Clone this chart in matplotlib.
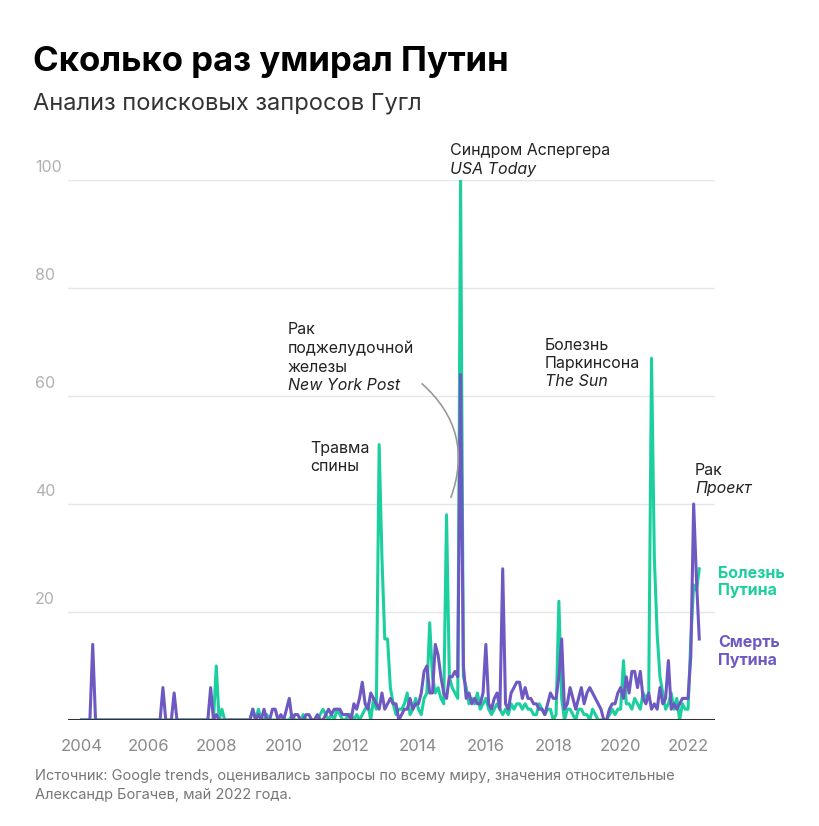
import matplotlib
matplotlib.use("Agg")
import matplotlib.pyplot as plt
import numpy as np
from matplotlib.patches import FancyArrowPatch

plt.rcParams['font.family'] = ['Inter', 'DejaVu Sans']

# monthly values, Jan 2004 .. May 2022
death = {
    2004: [0, 0, 0, 0, 14, 0, 0, 0, 0, 0, 0, 0],
    2005: [0] * 12,
    2006: [0, 0, 0, 0, 0, 6, 0, 0, 0, 5, 0, 0],
    2007: [0, 0, 0, 0, 0, 0, 0, 0, 0, 0, 6, 0],
    2008: [1, 0, 0, 0, 0, 0, 0, 0, 0, 0, 0, 0],
    2009: [0, 2, 0, 1, 0, 2, 0, 0, 2, 2, 0, 1],
    2010: [0, 2, 4, 0, 1, 1, 0, 0, 1, 1, 0, 0],
    2011: [1, 0, 0, 1, 2, 1, 2, 2, 2, 1, 1, 1],
    2012: [0, 3, 2, 4, 7, 3, 2, 5, 4, 3, 2, 5],
    2013: [2, 3, 4, 3, 3, 0, 1, 2, 2, 4, 2, 3],
    2014: [3, 5, 9, 10, 5, 5, 14, 12, 8, 5, 4, 8],
    2015: [8, 9, 8, 64, 10, 4, 5, 3, 4, 3, 3, 5],
    2016: [14, 3, 2, 4, 5, 2, 28, 3, 2, 5, 6, 7],
    2017: [7, 4, 6, 4, 4, 3, 3, 2, 2, 1, 3, 5],
    2018: [4, 4, 8, 15, 2, 3, 6, 4, 2, 4, 6, 3],
    2019: [5, 6, 5, 4, 3, 2, 0, 0, 2, 3, 3, 5],
    2020: [6, 4, 8, 5, 9, 9, 6, 9, 4, 3, 5, 2],
    2021: [3, 2, 6, 3, 4, 11, 2, 3, 2, 3, 4, 4],
    2022: [4, 12, 40, 26, 15],
}
illness = {
    2004: [0] * 12,
    2005: [0] * 12,
    2006: [0] * 12,
    2007: [0] * 12,
    2008: [10, 0, 2, 0, 0, 0, 0, 0, 0, 0, 0, 0],
    2009: [0, 2, 0, 2, 0, 0, 1, 0, 0, 0, 0, 0],
    2010: [0, 0, 0, 1, 0, 0, 0, 1, 0, 0, 0, 0],
    2011: [0, 1, 2, 1, 0, 1, 0, 2, 1, 0, 0, 1],
    2012: [1, 0, 1, 0, 1, 2, 3, 0, 4, 2, 51, 30],
    2013: [15, 15, 6, 3, 1, 2, 2, 3, 5, 1, 2, 4],
    2014: [2, 1, 4, 5, 18, 8, 5, 6, 4, 3, 38, 8],
    2015: [6, 5, 4, 100, 8, 6, 3, 4, 3, 5, 2, 3],
    2016: [4, 2, 1, 2, 3, 2, 1, 2, 1, 3, 2, 3],
    2017: [3, 2, 3, 2, 2, 1, 1, 3, 2, 1, 2, 2],
    2018: [0, 1, 22, 4, 0, 2, 2, 1, 0, 2, 2, 1],
    2019: [1, 0, 2, 1, 0, 0, 0, 0, 1, 2, 1, 2],
    2020: [2, 11, 3, 3, 2, 4, 3, 2, 5, 4, 5, 67],
    2021: [30, 16, 8, 5, 2, 3, 5, 2, 4, 0, 3, 2],
    2022: [2, 15, 25, 24, 28],
}
years_ticks = [2004, 2006, 2008, 2010, 2012, 2014, 2016, 2018, 2020, 2022]
y_ticks = [20, 40, 60, 80, 100]

def series(d):
    xs, ys = [], []
    for y in sorted(d):
        for m, v in enumerate(d[y]):
            xs.append(y + m / 12)
            ys.append(v)
    return np.array(xs), np.array(ys)

GREEN = "#1ccf9e"
PURPLE = "#6e58c2"

W, H = 820, 826
fig = plt.figure(figsize=(W / 100, H / 100), dpi=100)
ax = fig.add_axes([68 / W, 1 - 720 / H, (715 - 68) / W, (720 - 180) / H])
ax.set_xlim(2003.6, 2022.8)
ax.set_ylim(0, 100)
for s in ax.spines.values():
    s.set_visible(False)
ax.set_xticks([]); ax.set_yticks([])

def px(x, y):
    return x / W, 1 - y / H

for t in y_ticks:
    ax.axhline(t, color="#e6e6e6", lw=1, zorder=0)
    fig.text(*px(35, 720 - t * 5.4 - 12), str(t), color="#b0b0b0", fontsize=11.5, va="center")
for yv in years_ticks:
    ax.text(yv, -3.5, str(yv), color="#8a8a8a", fontsize=12, ha="center", va="top")

xg, yg = series(illness)
xp, yp = series(death)
ax.plot(xg, yg, color=GREEN, lw=2.2, zorder=3)
ax.plot(xp, yp, color=PURPLE, lw=2.2, zorder=4)
ax.axhline(0, color="#333333", lw=1.5, zorder=5)

fig.text(*px(33, 62), "Сколько раз умирал Путин", fontsize=25, fontweight="bold", va="center")
fig.text(*px(33, 104), "Анализ поисковых запросов Гугл", fontsize=17, color="#333333", va="center")

def note(x, y, lines, italic_last=True, n_italic=1):
    for i, ln in enumerate(lines):
        style = "italic" if i >= len(lines) - n_italic and italic_last else "normal"
        fig.text(*px(x, y + i * 18.5), ln, fontsize=11.5, color="#222222", style=style, va="center")

note(310, 448, ["Травма", "спины"], italic_last=False)
note(288, 330, ["Рак", "поджелудочной", "железы", "New York Post"])
note(450, 151, ["Синдром Аспергера", "USA Today"])
note(545, 345, ["Болезнь", "Паркинсона", "The Sun"])
note(695, 470, ["Рак", "Проект"])

arr = FancyArrowPatch(px(420, 382), px(450, 500), transform=fig.transFigure,
                      connectionstyle="arc3,rad=-0.35", arrowstyle="-", color="#999999", lw=1.2)
fig.patches.append(arr)

fig.text(*px(718, 573), "Болезнь", color=GREEN, fontsize=11.5, fontweight="bold", va="center")
fig.text(*px(718, 591), "Путина", color=GREEN, fontsize=11.5, fontweight="bold", va="center")
fig.text(*px(718, 643), "Смерть", color=PURPLE, fontsize=11.5, fontweight="bold", va="center")
fig.text(*px(718, 661), "Путина", color=PURPLE, fontsize=11.5, fontweight="bold", va="center")

fig.text(*px(35, 776), "Источник: Google trends, оценивались запросы по всему миру, значения относительные",
         fontsize=10.5, color="#777777", va="center")
fig.text(*px(35, 795), "Александр Богачев, май 2022 года.", fontsize=10.5, color="#777777", va="center")

fig.savefig("out.png", dpi=100, facecolor="white")
